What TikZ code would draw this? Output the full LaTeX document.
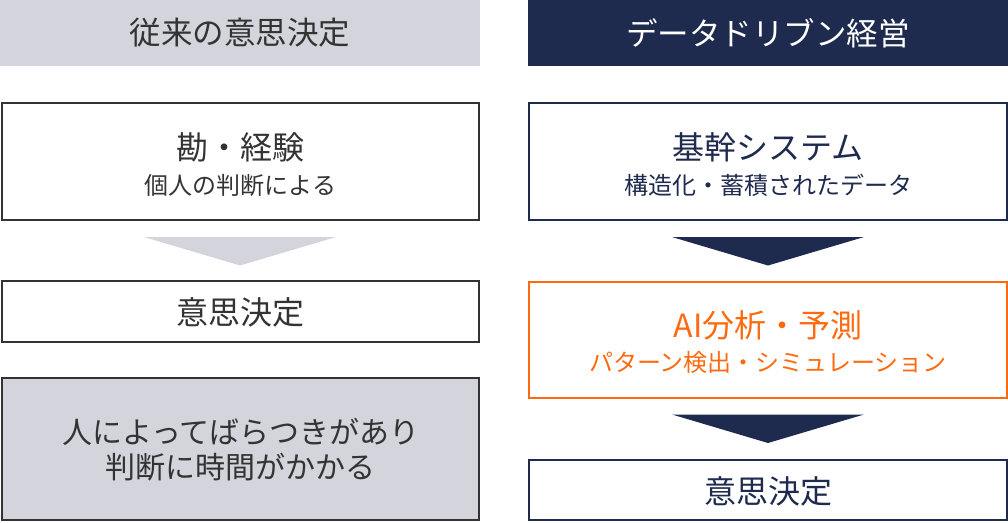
\documentclass[tikz,border=0pt]{standalone}
\usepackage{fontspec}
\setmainfont{Noto Sans CJK JP}
\usetikzlibrary{calc}
\definecolor{navy}{HTML}{1E2A4E}
\definecolor{lgray}{HTML}{D3D4DC}
\definecolor{dgray}{HTML}{333333}
\definecolor{orng}{HTML}{FF6A10}
\tikzset{
  hdr/.style={inner sep=0pt, minimum width=480pt, minimum height=65.5pt, anchor=north west},
  lbox/.style={draw=dgray, line width=2pt, inner sep=0pt, minimum width=477pt},
  rbox/.style={draw=navy, line width=2pt, inner sep=0pt, minimum width=478pt},
  obox/.style={draw=orng, line width=2pt, inner sep=0pt, minimum width=478pt},
  head/.style={font=\fontsize{31.5}{36}\selectfont, inner sep=0pt},
  big/.style={font=\fontsize{32}{36}\selectfont, inner sep=0pt},
  mid/.style={font=\fontsize{30}{36}\selectfont, inner sep=0pt},
  small/.style={font=\fontsize{24}{28}\selectfont, inner sep=0pt},
}
\begin{document}
\begin{tikzpicture}[x=1pt,y=-1pt]
\useasboundingbox (0,0) rectangle (1008,522);
% headers
\node[hdr, fill=lgray] (hl) at (0,0) {};
\node[hdr, fill=navy] (hr) at (528,0) {};
\node[head, text=dgray] (hlt) at (240,33) {従来の意思決定};
\node[head, text=white] (hrt) at (768,33) {データドリブン経営};
% left column
\node[lbox, minimum height=117pt] (l1) at (240.5,161.5) {};
\node[big, text=dgray] (l1a) at (240.5,147) {勘・経験};
\node[small, text=dgray] (l1b) at (240.5,185) {個人の判断による};
\node[lbox, minimum height=61pt] (l2) at (240.5,311.5) {};
\node[big, text=dgray] (l2a) at (240.5,312) {意思決定};
\node[lbox, fill=lgray, minimum height=142pt] (l3) at (240.5,449) {};
\node[mid, text=dgray] (l3a) at (240.5,432) {人によってばらつきがあり};
\node[mid, text=dgray] (l3b) at (240.5,467) {判断に時間がかかる};
\fill[lgray] ($(l1.south)+(-96.5,16)$) -- ($(l1.south)+(95.5,16)$) -- ($(l1.south)+(-0.5,44.5)$) -- cycle;
% right column
\node[rbox, minimum height=117pt] (r1) at (768,161.5) {};
\node[big, text=navy] (r1a) at (768,147) {基幹システム};
\node[small, text=navy] (r1b) at (768,185) {構造化・蓄積されたデータ};
\node[obox, minimum height=116pt] (r2) at (768,339.5) {};
\node[big, text=orng] (r2a) at (768,325) {AI分析・予測};
\node[small, text=orng] (r2b) at (768,362) {パターン検出・シミュレーション};
\node[rbox, minimum height=60pt] (r3) at (768,490) {};
\node[big, text=navy] (r3a) at (768,491) {意思決定};
\fill[navy] ($(r1.south)+(-96,16)$) -- ($(r1.south)+(96,16)$) -- ($(r1.south)+(0,44.5)$) -- cycle;
\fill[navy] ($(r2.south)+(-96,16)$) -- ($(r2.south)+(96,16)$) -- ($(r2.south)+(0,44.5)$) -- cycle;
\end{tikzpicture}
\end{document}
